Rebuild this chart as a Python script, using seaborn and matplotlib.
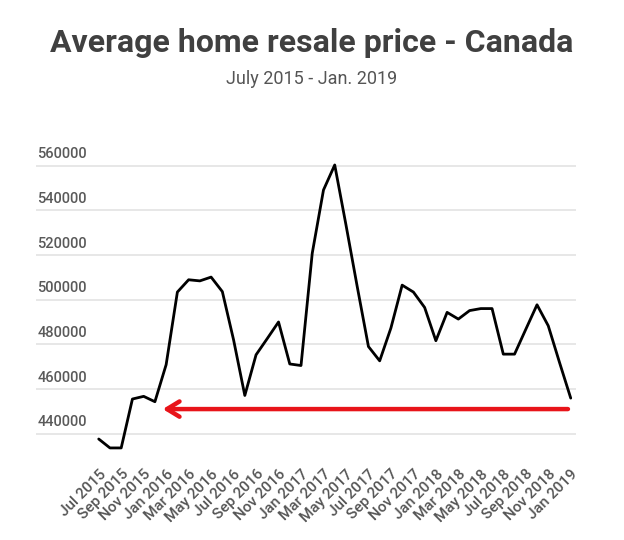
import numpy as np
import pandas as pd
import matplotlib
matplotlib.use("Agg")
import matplotlib.pyplot as plt
import seaborn as sns

# monthly average resale price, Jul 2015 - Jan 2019
months = ["Jul 2015", "Aug 2015", "Sep 2015", "Oct 2015", "Nov 2015", "Dec 2015",
          "Jan 2016", "Feb 2016", "Mar 2016", "Apr 2016", "May 2016", "Jun 2016",
          "Jul 2016", "Aug 2016", "Sep 2016", "Oct 2016", "Nov 2016", "Dec 2016",
          "Jan 2017", "Feb 2017", "Mar 2017", "Apr 2017", "May 2017", "Jun 2017",
          "Jul 2017", "Aug 2017", "Sep 2017", "Oct 2017", "Nov 2017", "Dec 2017",
          "Jan 2018", "Feb 2018", "Mar 2018", "Apr 2018", "May 2018", "Jun 2018",
          "Jul 2018", "Aug 2018", "Sep 2018", "Oct 2018", "Nov 2018", "Dec 2018",
          "Jan 2019"]
prices = [437600, 433600, 433600, 455500, 456700, 454300,
          470900, 503400, 508900, 508400, 510100, 503600,
          482000, 457100, 475300, 482600, 490000, 471200,
          470500, 520800, 549100, 560300, 533500, 505900,
          479000, 472600, 487300, 506500, 503400, 496500,
          481600, 494300, 491300, 495100, 496000, 496000,
          475600, 475600, 486700, 497700, 488300, 471900,
          455900]
y_ticks = [440000, 460000, 480000, 500000, 520000, 540000, 560000]

# red arrow: drawn at this price level, from the last month back to ~Dec 2015
arrow_level = 451000
arrow_start = "Jan 2019"
arrow_end = 5.45

df = pd.DataFrame({"idx": np.arange(len(months)), "month": months, "price": prices})

sns.set_style("white")
plt.rcParams["font.family"] = ["Roboto", "DejaVu Sans"]

fig = plt.figure(figsize=(6.24, 5.4), dpi=100)
ax = fig.add_axes([0.0577, 0.1556, 0.8654, 0.579])

for t in y_ticks:
    ax.axhline(t, color="#e3e3e3", lw=1.2, zorder=0)

sns.lineplot(data=df, x="idx", y="price", color="black", lw=2, ax=ax)

ax.annotate("", xy=(arrow_end, arrow_level),
            xytext=(months.index(arrow_start), arrow_level),
            arrowprops=dict(arrowstyle="->,head_length=0.9,head_width=0.55",
                            color="#e8141a", lw=3.2))

ax.set_xlim(-5.58, 42.47)
ax.set_ylim(430000, 570000)
ax.set_xticks(df["idx"][::2])
ax.set_xticklabels(df["month"][::2], rotation=45, ha="right",
                   rotation_mode="anchor", color="#555555", fontsize=11,
                   fontweight="medium")
ax.set_yticks(y_ticks)
ax.set_yticklabels([str(t) for t in y_ticks], color="#5a5a5a", fontsize=10.5,
                   ha="left", va="bottom", fontweight="medium")
ax.tick_params(axis="y", length=0, pad=-1)
ax.tick_params(axis="x", length=0, pad=8)
for lab in ax.get_yticklabels():
    lab.set_transform(lab.get_transform() + matplotlib.transforms.ScaledTranslation(0, 3 / 72, fig.dpi_scale_trans))
ax.set_xlabel("")
ax.set_ylabel("")
sns.despine(ax=ax, left=True, bottom=True)

fig.text(0.5, 0.921, "Average home resale price - Canada", ha="center", va="center",
         fontsize=23, fontweight="bold", color="#404040")
fig.text(0.5, 0.854, "July 2015 - Jan. 2019", ha="center", va="center",
         fontsize=13, color="#555555")

fig.savefig("out.png", dpi=100)
